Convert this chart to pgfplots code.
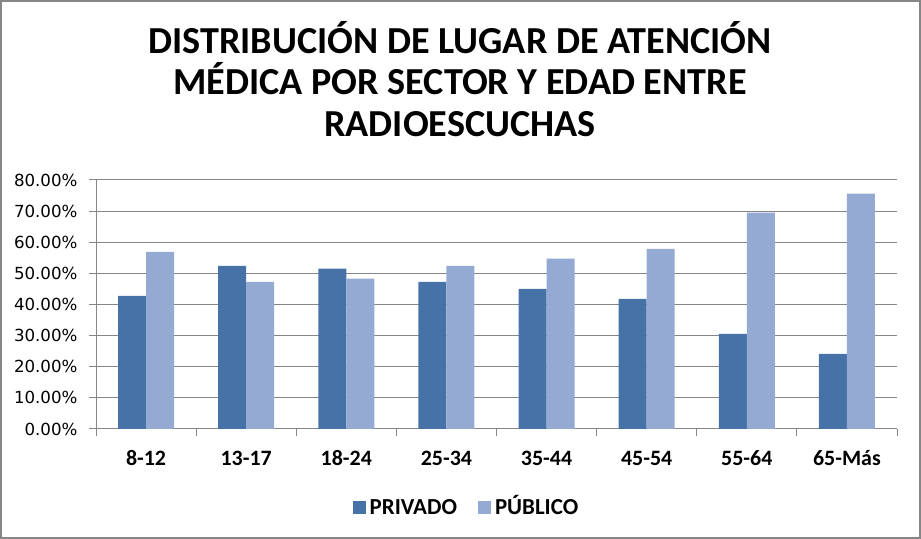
\documentclass[border=0pt]{standalone}
\usepackage{pgfplots}
\pgfplotsset{compat=1.18}
\usepackage{fontspec}
\setmainfont{Carlito}
\newfontfamily\dejavu{DejaVu Sans}
\definecolor{priv}{HTML}{4672A8}
\definecolor{publ}{HTML}{94AAD2}
\definecolor{gridc}{HTML}{868686}
\begin{document}
\begin{tikzpicture}[x=1bp,y=1bp]
\draw[gridc, line width=2bp] (1,1) rectangle (920,538);
\node[font=\bfseries\fontsize{38.3}{38.3}\selectfont, anchor=base, inner sep=0pt] at (460,485.7) {DISTRIBUCIÓN DE LUGAR DE ATENCIÓN};
\node[font=\bfseries\fontsize{38.3}{38.3}\selectfont, anchor=base, inner sep=0pt] at (460,444) {MÉDICA POR SECTOR Y EDAD ENTRE};
\node[font=\bfseries\fontsize{38.3}{38.3}\selectfont, anchor=base, inner sep=0pt] at (460,402.3) {RADIOESCUCHAS};
\begin{axis}[
  at={(96bp,110bp)}, anchor=south west,
  scale only axis, width=801bp, height=249bp,
  xmin=-0.5, xmax=7.5, ymin=0, ymax=80,
  axis lines*=left,
  axis line style={draw=gridc, line width=1bp},
  ytick={0,10,...,80},
  ymajorgrids, grid style={draw=gridc, line width=1bp},
  xtick={-0.5,0.5,...,7.5}, xticklabels={},
  extra x ticks={0,1,2,3,4,5,6,7},
  extra x tick labels={8-12,13-17,18-24,25-34,35-44,45-54,55-64,65-Más},
  extra x tick style={major tick length=0pt, grid=none},
  tick align=outside, major tick length=7bp,
  tick style={draw=gridc, line width=1bp},
  xticklabel style={font=\bfseries\fontsize{22}{22}\selectfont, anchor=base, yshift=-36.7bp},
  yticklabel={\pgfmathprintnumber[assume math mode=true,fixed,fixed zerofill,precision=2]{\tick}\%},
  yticklabel style={font=\dejavu\fontsize{16.7}{16.7}\selectfont, xshift=-8bp},
  ybar=0pt, bar width=28bp,
  legend style={draw=none, at={(0.4625,-0.307)}, anchor=center, legend columns=2,
    cells={anchor=base},
    font=\bfseries\fontsize{23}{23}\selectfont,
    /tikz/every odd column/.append style={column sep=2bp},
    /tikz/every even column/.append style={column sep=19bp}},
  legend image code/.code={\fill[#1] (0bp,0bp) rectangle (13bp,13bp);},
]
\addplot[fill=priv, draw=none] coordinates {(0,42.8) (1,52.4) (2,51.5) (3,47.3) (4,45.0) (5,41.8) (6,30.6) (7,24.1)};
\addplot[fill=publ, draw=none] coordinates {(0,56.9) (1,47.3) (2,48.3) (3,52.4) (4,54.7) (5,57.9) (6,69.5) (7,75.6)};
\legend{PRIVADO, PÚBLICO}
\end{axis}
\end{tikzpicture}
\end{document}
